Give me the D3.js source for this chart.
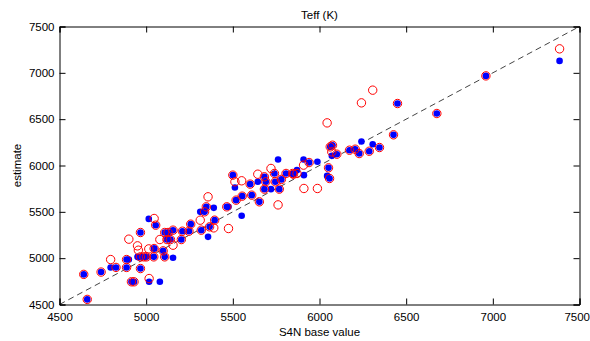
<!DOCTYPE html>
<html>
<head>
<meta charset="utf-8">
<script src="https://cdn.jsdelivr.net/npm/d3@7/dist/d3.min.js"></script>
<style>
  html, body { margin: 0; padding: 0; background: #fff; }
  svg { display: block; }
  text { font-family: "Liberation Sans", Arial, sans-serif; fill: #000; }
</style>
</head>
<body>
<svg id="chart" width="590" height="341"></svg>
<script>
// S4N base value (x) shared by both estimates
const baseValue = [4640,4660,4740,4795,4826,4887,4887,4900,4915,4930,4950,4955,4967,4967,4967,4987,5002,5015,5017,5046,
  5046,5044,5055,5079,5098,5107,5107,5126,5120,5140,5155,5155,5203,5209,5247,5257,5318,5312,5337,5347,
  5357,5366,5390,5395,5475,5465,5500,5512,5519,5551,5554,5600,5609,5644,5653,5682,5682,5690,5720,5740,
  5745,5761,5768,5780,5807,5845,5870,5850,5908,5910,5940,5988,6044,6052,6058,6062,6075,6071,6100,6173,
  6206,6229,6242,6287,6307,6346,6427,6450,6677,6960,7385];
// estimate, blue dots
const estimateBlue = [4825,4555,4850,4900,4900,4985,4900,4985,4745,4745,5014,5010,5277,5014,4888,5014,5014,5424,4745,5104,
  5104,5014,5356,4745,5079,5277,5014,5277,5201,5201,5302,5004,5201,5291,5291,5367,5302,5500,5500,5554,
  5230,5338,5543,5410,5554,5554,5896,5762,5626,5457,5669,5799,5680,5824,5608,5878,5745,5824,5745,5914,
  5824,6065,5745,5850,5914,5914,5950,5906,6065,5896,6032,6040,5888,5975,5860,6201,6219,6104,6122,6165,
  6176,6129,6259,6154,6230,6194,6331,6669,6561,6967,7129];
// estimate, red circles
const estimateRed = [4825,4555,4850,4985,4900,4985,4900,5205,4745,4745,5133,5086,5277,5014,4888,5014,5014,5100,4780,5428,
  5104,5014,5356,5201,5079,5277,5014,5277,5201,5201,5302,5140,5201,5291,5291,5367,5302,5410,5500,5554,
  5662,5338,5327,5410,5320,5554,5896,5824,5626,5835,5669,5799,5680,5906,5608,5878,5745,5824,5968,5914,
  5824,5575,5745,5850,5914,5914,5914,5906,6004,5752,6032,5752,6460,5975,5860,6201,6219,6147,6122,6165,
  6176,6129,6676,6154,6813,6194,6331,6669,6561,6967,7259];
const xTicks = [4500,5000,5500,6000,6500,7000,7500];
const yTicks = [4500,5000,5500,6000,6500,7000,7500];
const titleText = "Teff (K)";
const xLabel = "S4N base value";
const yLabel = "estimate";

const svg = d3.select("#chart");
const L = 59.5, R = 579.5, T = 26.5, B = 304.5;
const x = d3.scaleLinear().domain([4500, 7500]).range([L, R]);
const y = d3.scaleLinear().domain([4500, 7500]).range([B, T]);

// identity dashed line
svg.append("line")
  .attr("x1", x(4500)).attr("y1", y(4500))
  .attr("x2", x(7500)).attr("y2", y(7500))
  .attr("stroke", "#444").attr("stroke-width", 1)
  .attr("stroke-dasharray", "6,4");

const pts = baseValue.map((v, i) => ({x: v, b: estimateBlue[i], r: estimateRed[i]}));

// blue dots
svg.append("g").selectAll("circle").data(pts).join("circle")
  .attr("cx", d => x(d.x)).attr("cy", d => y(d.b)).attr("r", 3.3)
  .attr("fill", "#0000ff");

// red circles
svg.append("g").selectAll("circle").data(pts).join("circle")
  .attr("cx", d => x(d.x)).attr("cy", d => y(d.r)).attr("r", 4.2)
  .attr("fill", "none").attr("stroke", "#ff0000").attr("stroke-width", 1);

// axes box with inward ticks on all sides
const tl = 6;
const fs = "11.5px";
const gx = svg.append("g").attr("transform", `translate(0,${B})`)
  .call(d3.axisBottom(x).tickValues(xTicks).tickSize(-tl).tickPadding(6).tickFormat(d3.format("d")));
const gxt = svg.append("g").attr("transform", `translate(0,${T})`)
  .call(d3.axisTop(x).tickValues(xTicks).tickSize(-tl).tickFormat(""));
const gy = svg.append("g").attr("transform", `translate(${L},0)`)
  .call(d3.axisLeft(y).tickValues(yTicks).tickSize(-tl).tickPadding(5).tickFormat(d3.format("d")));
const gyr = svg.append("g").attr("transform", `translate(${R},0)`)
  .call(d3.axisRight(y).tickValues(yTicks).tickSize(-tl).tickFormat(""));
[gx, gxt, gy, gyr].forEach(g => {
  g.select(".domain").attr("stroke", "#000").attr("stroke-width", 1);
  g.selectAll(".tick line").attr("stroke", "#000");
  g.selectAll("text").style("font-family", '"Liberation Sans", Arial, sans-serif').style("font-size", fs).attr("fill", "#000");
});
gx.selectAll("text").attr("dy", "0.9em");
// keep the last x tick label inside the picture
gx.selectAll(".tick").filter(d => d === 7500).select("text")
  .attr("text-anchor", "end").attr("x", 10);

svg.append("text").attr("x", (L + R) / 2).attr("y", 19)
  .attr("text-anchor", "middle").style("font-size", fs).text(titleText);
svg.append("text").attr("x", (L + R) / 2).attr("y", 336)
  .attr("text-anchor", "middle").style("font-size", fs).text(xLabel);
svg.append("text").attr("transform", `translate(21,${(T + B) / 2}) rotate(-90)`)
  .attr("text-anchor", "middle").style("font-size", fs).text(yLabel);
</script>
</body>
</html>
